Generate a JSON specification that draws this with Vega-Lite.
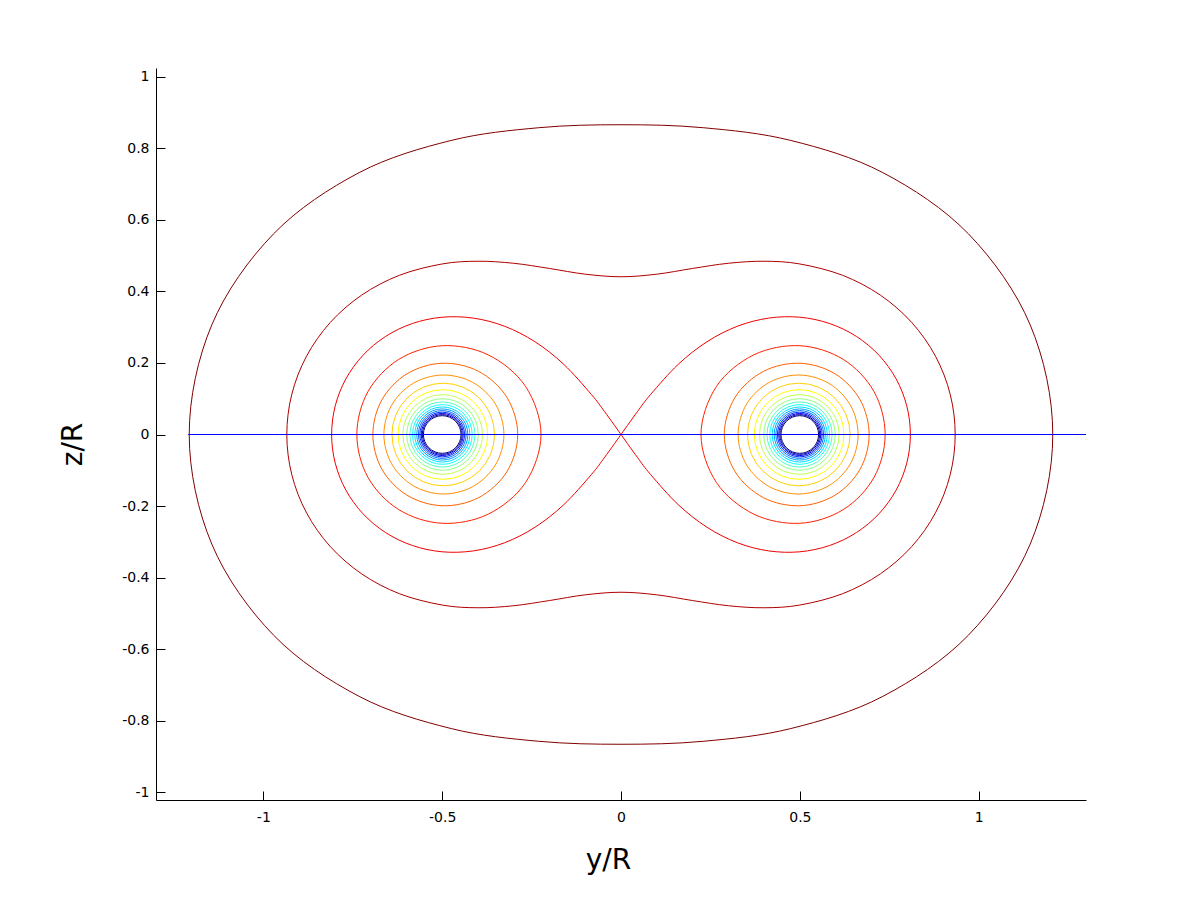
{
  "$schema": "https://vega.github.io/schema/vega-lite/v6.json",
  "width": 930,
  "height": 732,
  "autosize": {"type": "none"},
  "padding": {"left": 156, "top": 68, "right": 114, "bottom": 100},
  "background": "white",
  "config": {
    "view": {"stroke": null},
    "font": "DejaVu Sans",
    "axis": {
      "grid": false,
      "domainColor": "black",
      "domainWidth": 1,
      "tickColor": "black",
      "tickWidth": 1,
      "tickSize": -9,
      "labelColor": "black",
      "labelFont": "DejaVu Sans",
      "labelFontSize": 14,
      "labelFlush": false,
      "labelOverlap": false,
      "titleColor": "black",
      "titleFont": "DejaVu Sans",
      "titleFontSize": 28,
      "titleFontWeight": "normal"
    }
  },
  "datasets": {
    "curves": [
      {"g":"2","v":2,"y":1.2071,"z":0},
      {"g":"2","v":2,"y":1.144,"z":0.3065},
      {"g":"2","v":2,"y":0.9714,"z":0.5609},
      {"g":"2","v":2,"y":0.7321,"z":0.7321},
      {"g":"2","v":2,"y":0.4747,"z":0.8221},
      {"g":"2","v":2,"y":0.2298,"z":0.8577},
      {"g":"2","v":2,"y":0,"z":0.866},
      {"g":"2","v":2,"y":-0.2298,"z":0.8577},
      {"g":"2","v":2,"y":-0.4747,"z":0.8221},
      {"g":"2","v":2,"y":-0.7321,"z":0.7321},
      {"g":"2","v":2,"y":-0.9714,"z":0.5609},
      {"g":"2","v":2,"y":-1.144,"z":0.3065},
      {"g":"2","v":2,"y":-1.2071,"z":0},
      {"g":"2","v":2,"y":-1.144,"z":-0.3065},
      {"g":"2","v":2,"y":-0.9714,"z":-0.5609},
      {"g":"2","v":2,"y":-0.7321,"z":-0.7321},
      {"g":"2","v":2,"y":-0.4747,"z":-0.8221},
      {"g":"2","v":2,"y":-0.2298,"z":-0.8577},
      {"g":"2","v":2,"y":0,"z":-0.866},
      {"g":"2","v":2,"y":0.2298,"z":-0.8577},
      {"g":"2","v":2,"y":0.4747,"z":-0.8221},
      {"g":"2","v":2,"y":0.7321,"z":-0.7321},
      {"g":"2","v":2,"y":0.9714,"z":-0.5609},
      {"g":"2","v":2,"y":1.144,"z":-0.3065},

      {"g":"3","v":3,"y":0.9343,"z":0},
      {"g":"3","v":3,"y":0.9203,"z":0.1126},
      {"g":"3","v":3,"y":0.8792,"z":0.2189},
      {"g":"3","v":3,"y":0.813,"z":0.313},
      {"g":"3","v":3,"y":0.725,"z":0.3897},
      {"g":"3","v":3,"y":0.6193,"z":0.4452},
      {"g":"3","v":3,"y":0.5,"z":0.4768},
      {"g":"3","v":3,"y":0.4,"z":0.4844},
      {"g":"3","v":3,"y":0.3,"z":0.4787},
      {"g":"3","v":3,"y":0.2,"z":0.4642},
      {"g":"3","v":3,"y":0.1,"z":0.4482},
      {"g":"3","v":3,"y":0,"z":0.441},
      {"g":"3","v":3,"y":-0.1,"z":0.4482},
      {"g":"3","v":3,"y":-0.2,"z":0.4642},
      {"g":"3","v":3,"y":-0.3,"z":0.4787},
      {"g":"3","v":3,"y":-0.4,"z":0.4844},
      {"g":"3","v":3,"y":-0.5,"z":0.4768},
      {"g":"3","v":3,"y":-0.6193,"z":0.4452},
      {"g":"3","v":3,"y":-0.725,"z":0.3897},
      {"g":"3","v":3,"y":-0.813,"z":0.313},
      {"g":"3","v":3,"y":-0.8792,"z":0.2189},
      {"g":"3","v":3,"y":-0.9203,"z":0.1126},
      {"g":"3","v":3,"y":-0.9343,"z":0},
      {"g":"3","v":3,"y":-0.9203,"z":-0.1126},
      {"g":"3","v":3,"y":-0.8792,"z":-0.2189},
      {"g":"3","v":3,"y":-0.813,"z":-0.313},
      {"g":"3","v":3,"y":-0.725,"z":-0.3897},
      {"g":"3","v":3,"y":-0.6193,"z":-0.4452},
      {"g":"3","v":3,"y":-0.5,"z":-0.4768},
      {"g":"3","v":3,"y":-0.4,"z":-0.4844},
      {"g":"3","v":3,"y":-0.3,"z":-0.4787},
      {"g":"3","v":3,"y":-0.2,"z":-0.4642},
      {"g":"3","v":3,"y":-0.1,"z":-0.4482},
      {"g":"3","v":3,"y":0,"z":-0.441},
      {"g":"3","v":3,"y":0.1,"z":-0.4482},
      {"g":"3","v":3,"y":0.2,"z":-0.4642},
      {"g":"3","v":3,"y":0.3,"z":-0.4787},
      {"g":"3","v":3,"y":0.4,"z":-0.4844},
      {"g":"3","v":3,"y":0.5,"z":-0.4768},
      {"g":"3","v":3,"y":0.6193,"z":-0.4452},
      {"g":"3","v":3,"y":0.725,"z":-0.3897},
      {"g":"3","v":3,"y":0.813,"z":-0.313},
      {"g":"3","v":3,"y":0.8792,"z":-0.2189},
      {"g":"3","v":3,"y":0.9203,"z":-0.1126},

      {"g":"5R","v":5,"y":0.7385,"z":0},
      {"g":"5R","v":5,"y":0.7074,"z":0.1198},
      {"g":"5R","v":5,"y":0.6213,"z":0.21},
      {"g":"5R","v":5,"y":0.5,"z":0.2482},
      {"g":"5R","v":5,"y":0.3714,"z":0.2227},
      {"g":"5R","v":5,"y":0.267,"z":0.1346},
      {"g":"5R","v":5,"y":0.2236,"z":0},
      {"g":"5R","v":5,"y":0.267,"z":-0.1346},
      {"g":"5R","v":5,"y":0.3714,"z":-0.2227},
      {"g":"5R","v":5,"y":0.5,"z":-0.2482},
      {"g":"5R","v":5,"y":0.6213,"z":-0.21},
      {"g":"5R","v":5,"y":0.7074,"z":-0.1198},
      {"g":"5L","v":5,"y":-0.7385,"z":0},
      {"g":"5L","v":5,"y":-0.7074,"z":0.1198},
      {"g":"5L","v":5,"y":-0.6213,"z":0.21},
      {"g":"5L","v":5,"y":-0.5,"z":0.2482},
      {"g":"5L","v":5,"y":-0.3714,"z":0.2227},
      {"g":"5L","v":5,"y":-0.267,"z":0.1346},
      {"g":"5L","v":5,"y":-0.2236,"z":0},
      {"g":"5L","v":5,"y":-0.267,"z":-0.1346},
      {"g":"5L","v":5,"y":-0.3714,"z":-0.2227},
      {"g":"5L","v":5,"y":-0.5,"z":-0.2482},
      {"g":"5L","v":5,"y":-0.6213,"z":-0.21},
      {"g":"5L","v":5,"y":-0.7074,"z":-0.1198},

      {"g":"6R","v":6,"y":0.6937,"z":0},
      {"g":"6R","v":6,"y":0.6683,"z":0.0972},
      {"g":"6R","v":6,"y":0.5981,"z":0.1698},
      {"g":"6R","v":6,"y":0.5,"z":0.1992},
      {"g":"6R","v":6,"y":0.3981,"z":0.1765},
      {"g":"6R","v":6,"y":0.3192,"z":0.1044},
      {"g":"6R","v":6,"y":0.2887,"z":0},
      {"g":"6R","v":6,"y":0.3192,"z":-0.1044},
      {"g":"6R","v":6,"y":0.3981,"z":-0.1765},
      {"g":"6R","v":6,"y":0.5,"z":-0.1992},
      {"g":"6R","v":6,"y":0.5981,"z":-0.1698},
      {"g":"6R","v":6,"y":0.6683,"z":-0.0972},
      {"g":"6L","v":6,"y":-0.6937,"z":0},
      {"g":"6L","v":6,"y":-0.6683,"z":0.0972},
      {"g":"6L","v":6,"y":-0.5981,"z":0.1698},
      {"g":"6L","v":6,"y":-0.5,"z":0.1992},
      {"g":"6L","v":6,"y":-0.3981,"z":0.1765},
      {"g":"6L","v":6,"y":-0.3192,"z":0.1044},
      {"g":"6L","v":6,"y":-0.2887,"z":0},
      {"g":"6L","v":6,"y":-0.3192,"z":-0.1044},
      {"g":"6L","v":6,"y":-0.3981,"z":-0.1765},
      {"g":"6L","v":6,"y":-0.5,"z":-0.1992},
      {"g":"6L","v":6,"y":-0.5981,"z":-0.1698},
      {"g":"6L","v":6,"y":-0.6683,"z":-0.0972},

      {"g":"7R","v":7,"y":0.6629,"z":0},
      {"g":"7R","v":7,"y":0.6414,"z":0.0817},
      {"g":"7R","v":7,"y":0.5822,"z":0.1424},
      {"g":"7R","v":7,"y":0.5,"z":0.1663},
      {"g":"7R","v":7,"y":0.4156,"z":0.1463},
      {"g":"7R","v":7,"y":0.3515,"z":0.0858},
      {"g":"7R","v":7,"y":0.3273,"z":0},
      {"g":"7R","v":7,"y":0.3515,"z":-0.0858},
      {"g":"7R","v":7,"y":0.4156,"z":-0.1463},
      {"g":"7R","v":7,"y":0.5,"z":-0.1663},
      {"g":"7R","v":7,"y":0.5822,"z":-0.1424},
      {"g":"7R","v":7,"y":0.6414,"z":-0.0817},
      {"g":"7L","v":7,"y":-0.6629,"z":0},
      {"g":"7L","v":7,"y":-0.6414,"z":0.0817},
      {"g":"7L","v":7,"y":-0.5822,"z":0.1424},
      {"g":"7L","v":7,"y":-0.5,"z":0.1663},
      {"g":"7L","v":7,"y":-0.4156,"z":0.1463},
      {"g":"7L","v":7,"y":-0.3515,"z":0.0858},
      {"g":"7L","v":7,"y":-0.3273,"z":0},
      {"g":"7L","v":7,"y":-0.3515,"z":-0.0858},
      {"g":"7L","v":7,"y":-0.4156,"z":-0.1463},
      {"g":"7L","v":7,"y":-0.5,"z":-0.1663},
      {"g":"7L","v":7,"y":-0.5822,"z":-0.1424},
      {"g":"7L","v":7,"y":-0.6414,"z":-0.0817}
    ],
    "lobes": [
      {"g":"4R","v":4,"y":0,"z":0},
      {"g":"4R","v":4,"y":0.0458,"z":0.0638},
      {"g":"4R","v":4,"y":0.0827,"z":0.1118},
      {"g":"4R","v":4,"y":0.1601,"z":0.1963},
      {"g":"4R","v":4,"y":0.2406,"z":0.2594},
      {"g":"4R","v":4,"y":0.3253,"z":0.3026},
      {"g":"4R","v":4,"y":0.4128,"z":0.3254},
      {"g":"4R","v":4,"y":0.5,"z":0.3279},
      {"g":"4R","v":4,"y":0.5832,"z":0.3103},
      {"g":"4R","v":4,"y":0.6583,"z":0.2741},
      {"g":"4R","v":4,"y":0.7214,"z":0.2214},
      {"g":"4R","v":4,"y":0.7692,"z":0.1554},
      {"g":"4R","v":4,"y":0.7989,"z":0.0801},
      {"g":"4R","v":4,"y":0.809,"z":0},
      {"g":"4R","v":4,"y":0.7989,"z":-0.0801},
      {"g":"4R","v":4,"y":0.7692,"z":-0.1554},
      {"g":"4R","v":4,"y":0.7214,"z":-0.2214},
      {"g":"4R","v":4,"y":0.6583,"z":-0.2741},
      {"g":"4R","v":4,"y":0.5832,"z":-0.3103},
      {"g":"4R","v":4,"y":0.5,"z":-0.3279},
      {"g":"4R","v":4,"y":0.4128,"z":-0.3254},
      {"g":"4R","v":4,"y":0.3253,"z":-0.3026},
      {"g":"4R","v":4,"y":0.2406,"z":-0.2594},
      {"g":"4R","v":4,"y":0.1601,"z":-0.1963},
      {"g":"4R","v":4,"y":0.0827,"z":-0.1118},
      {"g":"4R","v":4,"y":0.0458,"z":-0.0638},
      {"g":"4R","v":4,"y":0,"z":0},
      {"g":"4L","v":4,"y":0,"z":0},
      {"g":"4L","v":4,"y":-0.0458,"z":0.0638},
      {"g":"4L","v":4,"y":-0.0827,"z":0.1118},
      {"g":"4L","v":4,"y":-0.1601,"z":0.1963},
      {"g":"4L","v":4,"y":-0.2406,"z":0.2594},
      {"g":"4L","v":4,"y":-0.3253,"z":0.3026},
      {"g":"4L","v":4,"y":-0.4128,"z":0.3254},
      {"g":"4L","v":4,"y":-0.5,"z":0.3279},
      {"g":"4L","v":4,"y":-0.5832,"z":0.3103},
      {"g":"4L","v":4,"y":-0.6583,"z":0.2741},
      {"g":"4L","v":4,"y":-0.7214,"z":0.2214},
      {"g":"4L","v":4,"y":-0.7692,"z":0.1554},
      {"g":"4L","v":4,"y":-0.7989,"z":0.0801},
      {"g":"4L","v":4,"y":-0.809,"z":0},
      {"g":"4L","v":4,"y":-0.7989,"z":-0.0801},
      {"g":"4L","v":4,"y":-0.7692,"z":-0.1554},
      {"g":"4L","v":4,"y":-0.7214,"z":-0.2214},
      {"g":"4L","v":4,"y":-0.6583,"z":-0.2741},
      {"g":"4L","v":4,"y":-0.5832,"z":-0.3103},
      {"g":"4L","v":4,"y":-0.5,"z":-0.3279},
      {"g":"4L","v":4,"y":-0.4128,"z":-0.3254},
      {"g":"4L","v":4,"y":-0.3253,"z":-0.3026},
      {"g":"4L","v":4,"y":-0.2406,"z":-0.2594},
      {"g":"4L","v":4,"y":-0.1601,"z":-0.1963},
      {"g":"4L","v":4,"y":-0.0827,"z":-0.1118},
      {"g":"4L","v":4,"y":-0.0458,"z":-0.0638},
      {"g":"4L","v":4,"y":0,"z":0}
    ],
    "rings": [
      {"v":8,"y":0.497,"z":0,"r":0.1434},
      {"v":8,"y":-0.497,"z":0,"r":0.1434},
      {"v":9,"y":0.498,"z":0,"r":0.1253},
      {"v":9,"y":-0.498,"z":0,"r":0.1253},
      {"v":10,"y":0.4986,"z":0,"r":0.1113},
      {"v":10,"y":-0.4986,"z":0,"r":0.1113},
      {"v":11,"y":0.499,"z":0,"r":0.1001},
      {"v":11,"y":-0.499,"z":0,"r":0.1001},
      {"v":12,"y":0.4992,"z":0,"r":0.091},
      {"v":12,"y":-0.4992,"z":0,"r":0.091},
      {"v":13,"y":0.4994,"z":0,"r":0.0834},
      {"v":13,"y":-0.4994,"z":0,"r":0.0834},
      {"v":14,"y":0.4996,"z":0,"r":0.077},
      {"v":14,"y":-0.4996,"z":0,"r":0.077},
      {"v":15,"y":0.4996,"z":0,"r":0.0715},
      {"v":15,"y":-0.4996,"z":0,"r":0.0715},
      {"v":16,"y":0.4997,"z":0,"r":0.0667},
      {"v":16,"y":-0.4997,"z":0,"r":0.0667},
      {"v":17,"y":0.4998,"z":0,"r":0.0625},
      {"v":17,"y":-0.4998,"z":0,"r":0.0625},
      {"v":18,"y":0.4998,"z":0,"r":0.0588},
      {"v":18,"y":-0.4998,"z":0,"r":0.0588},
      {"v":19,"y":0.4998,"z":0,"r":0.0556},
      {"v":19,"y":-0.4998,"z":0,"r":0.0556},
      {"v":20,"y":0.4998,"z":0,"r":0.0526},
      {"v":20,"y":-0.4998,"z":0,"r":0.0526}
    ],
    "baseline": [
      {"y":-1.21,"z":0},
      {"y":1.3,"z":0}
    ]
  },
  "encoding": {
    "x": {
      "field": "y",
      "type": "quantitative",
      "scale": {"domain": [-1.3, 1.3], "nice": false, "zero": false},
      "axis": {
        "title": "y/R",
        "values": [-1, -0.5, 0, 0.5, 1],
        "labelExpr": "replace(format(datum.value, '~g'), '\u2212', '-')",
        "labelPadding": 19,
        "titlePadding": 22,
        "titleX": 452
      }
    },
    "y": {
      "field": "z",
      "type": "quantitative",
      "scale": {"domain": [-1.02184, 1.02464], "nice": false, "zero": false},
      "axis": {
        "title": "z/R",
        "values": [-1, -0.8, -0.6, -0.4, -0.2, 0, 0.2, 0.4, 0.6, 0.8, 1],
        "labelExpr": "replace(format(datum.value, '~g'), '\u2212', '-')",
        "labelPadding": 16,
        "titlePadding": 34,
        "titleY": 376
      }
    },
    "color": {
      "field": "v",
      "type": "ordinal",
      "scale": {
        "domain": [2,3,4,5,6,7,8,9,10,11,12,13,14,15,16,17,18,19,20],
        "range": ["#800000","#af0000","#ef0000","#ff2000","#ff6000","#ff8f00","#ffcf00","#ffff00","#bfff50","#8fff80","#50ffbf","#10ffff","#00dfff","#009fff","#0070ff","#0030ff","#0000ef","#0000af","#000080"]
      },
      "legend": null
    }
  },
  "layer": [
    {
      "data": {"name": "curves"},
      "mark": {"type": "line", "interpolate": "cardinal-closed", "tension": 0, "strokeWidth": 1},
      "encoding": {
        "detail": {"field": "g", "type": "nominal"},
        "order": {"value": null}
      }
    },
    {
      "data": {"name": "lobes"},
      "mark": {"type": "line", "interpolate": "cardinal", "tension": 0, "strokeWidth": 1},
      "encoding": {
        "detail": {"field": "g", "type": "nominal"},
        "order": {"value": null}
      }
    },
    {
      "data": {"name": "rings"},
      "mark": {"type": "point", "shape": "circle", "filled": false, "opacity": 1, "strokeWidth": 1},
      "encoding": {
        "size": {
          "field": "r",
          "type": "quantitative",
          "scale": {"type": "pow", "exponent": 2, "domain": [0, 1], "range": [0, 511775], "nice": false},
          "legend": null
        }
      }
    },
    {
      "data": {"name": "baseline"},
      "mark": {"type": "line", "strokeWidth": 1, "color": "#0000ff"},
      "encoding": {
        "color": {"value": "#0000ff"},
        "order": {"value": null}
      }
    }
  ]
}
